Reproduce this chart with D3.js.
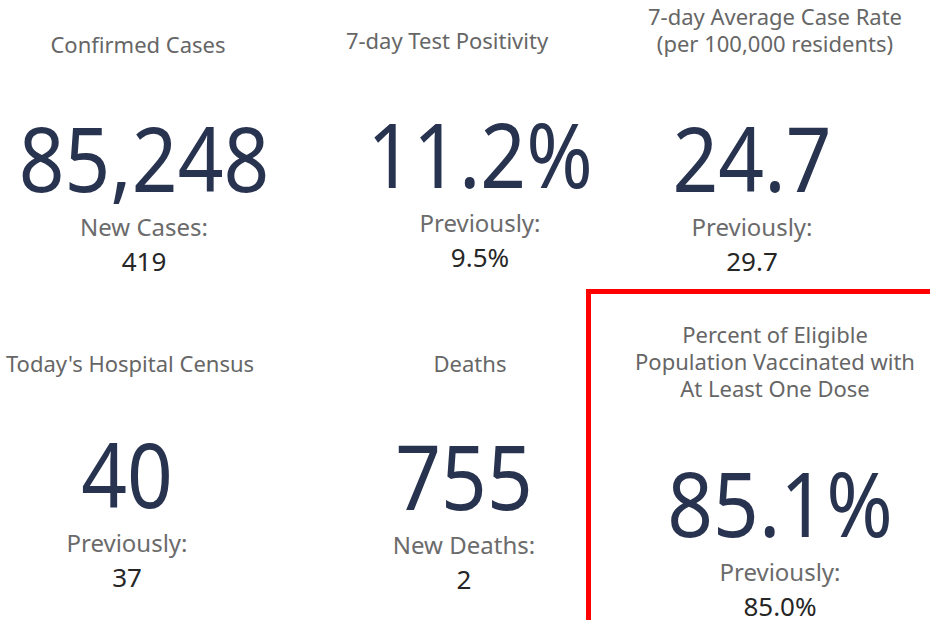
<!DOCTYPE html>
<html>
<meta charset="utf-8">
<style>
    body { margin: 0; background: #fff; }
    svg text { font-family: "Trebuchet MS", "Noto Sans", sans-serif; text-anchor: middle; }
    .title { fill: #666; font-size: 22px; }
    .big { fill: #283350; font-size: 90px; }
    .sub { fill: #6b6b6b; font-size: 24px; }
    .subval { fill: #262626; font-size: 26px; }
</style>
<body>
<script src="https://cdn.jsdelivr.net/npm/d3@7"></script>
<div id="container"></div>
<script>
// Dashboard tiles, row by row.
var titles = [
    ["Confirmed Cases"],
    ["7-day Test Positivity"],
    ["7-day Average Case Rate", "(per 100,000 residents)"],
    ["Today's Hospital Census"],
    ["Deaths"],
    ["Percent of Eligible", "Population Vaccinated with", "At Least One Dose"]
];
var mainValues = ["85,248", "11.2%", "24.7", "40", "755", "85.1%"];
var subLabels = ["New Cases:", "Previously:", "Previously:", "Previously:", "New Deaths:", "Previously:"];
var subValues = ["419", "9.5%", "29.7", "37", "2", "85.0%"];
var highlighted = 5;

// Layout of each tile (centres and baselines).
var layout = [
    {tx: 138, ty: 53, cx: 144, by: 192},
    {tx: 447, ty: 49, cx: 480, by: 188},
    {tx: 775, ty: 25, cx: 752, by: 192},
    {tx: 130, ty: 372, cx: 127, by: 508},
    {tx: 470, ty: 372, cx: 464, by: 510},
    {tx: 775, ty: 343, cx: 780, by: 537}
];

var width = 930, height = 620;
var svg = d3.select("#container").append("svg")
    .attr("width", width).attr("height", height);

// red highlight frame, runs off the right and bottom edges
svg.append("rect")
    .attr("x", 588.5).attr("y", 291.5)
    .attr("width", 400).attr("height", 400)
    .attr("fill", "none").attr("stroke", "#ff0000").attr("stroke-width", 5);

var tiles = svg.selectAll("g.tile")
    .data(d3.range(mainValues.length))
    .enter().append("g").attr("class", "tile");

tiles.each(function(i) {
    var g = d3.select(this), L = layout[i];
    g.append("text").attr("class", "title")
        .attr("x", L.tx).attr("y", L.ty)
        .selectAll("tspan").data(titles[i]).enter().append("tspan")
        .attr("x", L.tx).attr("dy", function(d, j) { return j ? 27 : 0; })
        .text(function(d) { return d; });
    // the dashboard font is narrower than Noto, so squeeze the big figure a bit
    g.append("text").attr("class", "big")
        .attr("transform", "translate(" + L.cx + "," + L.by + ") scale(0.89,1)")
        .text(mainValues[i]);
    g.append("text").attr("class", "sub")
        .attr("x", L.cx).attr("y", L.by + 44).text(subLabels[i]);
    g.append("text").attr("class", "subval")
        .attr("x", L.cx).attr("y", L.by + 79).text(subValues[i]);
});
</script>
</body>
</html>
